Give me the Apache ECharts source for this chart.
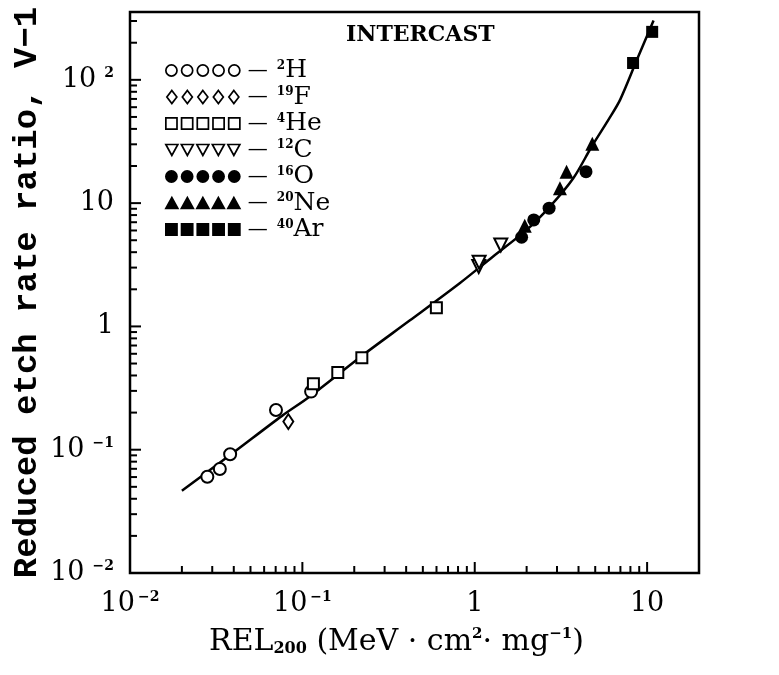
<!DOCTYPE html>
<html>
<head>
<meta charset="utf-8">
<script src="https://cdn.jsdelivr.net/npm/echarts@6/dist/echarts.min.js"></script>
<style>
  html, body { margin: 0; padding: 0; background: #fff; }
  #chart { width: 779px; height: 675px; }
</style>
</head>
<body>
<div id="chart"></div>
<script>
// isotopes (mass number, element)
const isoMass = ['2', '19', '4', '12', '16', '20', '40'];
const isoElem = ['H', 'F', 'He', 'C', 'O', 'Ne', 'Ar'];

// measured points: REL200 (MeV cm2/mg) and reduced etch rate ratio V-1
const h2X = [0.0281, 0.0332, 0.0381, 0.0703, 0.1124];
const h2Y = [0.0604, 0.0698, 0.0918, 0.210, 0.296];
const f19X = [0.0829];
const f19Y = [0.169];
const he4X = [0.1159, 0.1605, 0.2213, 0.599];
const he4Y = [0.342, 0.422, 0.558, 1.42];
const c12X = [1.055, 1.06, 1.416];
const c12Y = [3.06, 3.32, 4.58];
const o16X = [1.87, 2.20, 2.70, 4.42];
const o16Y = [5.29, 7.31, 9.10, 18.0];
const ne20X = [1.95, 3.12, 3.41, 4.81];
const ne20Y = [6.54, 13.2, 18.0, 30.3];
const ar40X = [8.29, 10.7];
const ar40Y = [137, 245];

// fitted curve
const fitX = [0.0200, 0.0381, 0.0765, 0.110, 0.221, 0.419, 0.818, 1.273, 2.0, 2.73, 3.73, 4.77, 5.96, 6.97, 8.75, 10.9];
const fitY = [0.0465, 0.0905, 0.189, 0.269, 0.576, 1.115, 2.24, 3.68, 6.07, 9.37, 15.9, 28.8, 47.4, 68.8, 146.7, 303];

// axes
const xMin = 0.01, xMax = 20;
const yMin = 0.01, yMax = 355;
const xMajor = [0.01, 0.1, 1, 10];
const xTickBase = ['10', '10', '1', '10'];
const xTickExp = ['−2', '−1', '', ''];
const xMinor = [0.02, 0.03, 0.04, 0.05, 0.06, 0.07, 0.08, 0.09,
                0.2, 0.3, 0.4, 0.5, 0.6, 0.7, 0.8, 0.9,
                2, 3, 4, 5, 6, 7, 8, 9];
const yMajor = [0.01, 0.1, 1, 10, 100];
const yTickBase = ['10', '10', '1', '10', '10'];
const yTickExp = ['−2', '−1', '', '', '2'];
const yMinor = [0.02, 0.03, 0.04, 0.05, 0.06, 0.07, 0.08, 0.09,
                0.2, 0.3, 0.4, 0.5, 0.6, 0.7, 0.8, 0.9,
                2, 3, 4, 5, 6, 7, 8, 9,
                20, 30, 40, 50, 60, 70, 80, 90,
                200, 300];

const SERIF = 'DejaVu Serif';

function pairs(xs, ys) {
  return xs.map((x, i) => [x, ys[i]]);
}

function majorIndex(list, v) {
  return list.findIndex(m => Math.abs(Math.log10(v) - Math.log10(m)) < 1e-6);
}

// row of five symbols for the legend icon
function rowIcon(kind) {
  let d = '';
  for (let k = 0; k < 5; k++) {
    const c = 6 + k * 15.5;
    if (kind === 'circle') {
      d += 'M' + (c - 5.5) + ',6.5a5.5,5.5 0 1,0 11,0a5.5,5.5 0 1,0 -11,0Z';
    } else if (kind === 'diamond') {
      d += 'M' + c + ',0L' + (c + 5) + ',6.5L' + c + ',13L' + (c - 5) + ',6.5Z';
    } else if (kind === 'rect') {
      d += 'M' + (c - 5.5) + ',1h11v11h-11Z';
    } else if (kind === 'down') {
      d += 'M' + (c - 6) + ',1h12l-6,11Z';
    } else {
      d += 'M' + (c - 6) + ',12h12l-6,-11Z';
    }
  }
  return 'path://' + d;
}

const hollow = { color: '#fff', borderColor: '#000', borderWidth: 2, opacity: 1 };
const filled = { color: '#000', borderColor: '#000', borderWidth: 0, opacity: 1 };

const isoSeries = [
  { data: pairs(h2X, h2Y), symbol: 'circle', size: 12, style: hollow, icon: 'circle' },
  { data: pairs(f19X, f19Y), symbol: 'diamond', size: [10, 15], style: hollow, icon: 'diamond' },
  { data: pairs(he4X, he4Y), symbol: 'rect', size: 11, style: hollow, icon: 'rect' },
  { data: pairs(c12X, c12Y), symbol: 'triangle', size: 13, rotate: 180, style: hollow, icon: 'down' },
  { data: pairs(o16X, o16Y), symbol: 'circle', size: 13, style: filled, icon: 'circle' },
  { data: pairs(ne20X, ne20Y), symbol: 'triangle', size: 14, style: filled, icon: 'up' },
  { data: pairs(ar40X, ar40Y), symbol: 'rect', size: 12, style: filled, icon: 'rect' }
];
const names = isoMass.map((m, i) => m + isoElem[i]);

const chart = echarts.init(document.getElementById('chart'));

const series = isoSeries.map((s, i) => ({
  name: names[i],
  type: 'scatter',
  data: s.data,
  symbol: s.symbol,
  symbolSize: s.size,
  symbolRotate: s.rotate || 0,
  itemStyle: s.style,
  z: 4
}));

series.push({
  name: 'fit',
  type: 'line',
  data: pairs(fitX, fitY),
  smooth: 0.3,
  showSymbol: false,
  lineStyle: { color: '#000', width: 2.5 },
  z: 3
});

// inward tick marks. Only interior values go through the scale:
// the 10^-2 edge sits one decade below 10^-1 (log axis is linear per decade).
function tickSeries(name, axis, majors, minors) {
  const vals = majors.concat(minors);
  return {
    name: name,
    type: 'custom',
    silent: true,
    clip: false,
    z: 10,
    data: vals.map(v => axis === 'x' ? [v, 1] : [1, v]),
    renderItem: function (params, api) {
      const v = axis === 'x' ? api.value(0) : api.value(1);
      const len = majorIndex(majors, v) >= 0 ? 11 : 7;
      const p = api.coord([api.value(0), api.value(1)]);
      const a = api.coord([0.1, 0.1]);
      const b = api.coord([1, 1]);
      let shape;
      if (axis === 'x') {
        const yb = 2 * a[1] - b[1];
        const dir = yb > b[1] ? -1 : 1;
        shape = { x1: p[0], y1: yb, x2: p[0], y2: yb + dir * len };
      } else {
        const xl = 2 * a[0] - b[0];
        const dir = xl < b[0] ? 1 : -1;
        shape = { x1: xl, y1: p[1], x2: xl + dir * len, y2: p[1] };
      }
      return {
        type: 'line',
        shape: shape,
        style: { stroke: '#000', lineWidth: 2 }
      };
    }
  };
}
series.push(tickSeries('xticks', 'x', xMajor.slice(1), xMinor));
series.push(tickSeries('yticks', 'y', yMajor.slice(1), yMinor));

chart.setOption({
  backgroundColor: '#fff',
  animation: false,
  title: {
    text: 'INTERCAST',
    left: 341,
    top: 19,
    textStyle: { fontFamily: SERIF, fontSize: 22, fontWeight: 'bold', color: '#000' }
  },
  grid: {
    left: 130, right: 80, top: 12, bottom: 102,
    show: true, borderColor: '#000', borderWidth: 2.5
  },
  legend: {
    orient: 'vertical',
    left: 160,
    top: 53,
    itemWidth: 74,
    itemHeight: 13,
    itemGap: 1.5,
    selectedMode: false,
    data: names.map((n, i) => ({
      name: n,
      icon: rowIcon(isoSeries[i].icon),
      itemStyle: Object.assign({}, isoSeries[i].style, { borderWidth: 1.7 })
    })),
    formatter: function (name) {
      const i = names.indexOf(name);
      return '{dash|—}{sup|' + isoMass[i] + '}{el|' + isoElem[i] + '}';
    },
    textStyle: {
      fontFamily: SERIF,
      color: '#000',
      lineHeight: 22,
      rich: {
        dash: { fontFamily: SERIF, fontSize: 20, lineHeight: 20, padding: [0, 9, 0, 3], color: '#000' },
        sup: { fontFamily: SERIF, fontSize: 12, fontWeight: 'bold', verticalAlign: 'top', lineHeight: 12, color: '#000' },
        el: { fontFamily: SERIF, fontSize: 25, lineHeight: 22, color: '#000' }
      }
    }
  },
  xAxis: {
    type: 'log',
    logBase: 10,
    position: 'bottom',
    min: xMin,
    max: xMax,
    splitNumber: 3,
    axisLine: { show: false, onZero: false },
    axisTick: { show: false },
    splitLine: { show: false },
    axisLabel: {
      margin: 17,
      showMaxLabel: false,
      formatter: function (v) {
        const i = majorIndex(xMajor, v);
        if (i < 0) return '';
        return '{b|' + xTickBase[i] + '}' + (xTickExp[i] ? '{s|' + xTickExp[i] + '}' : '');
      },
      rich: {
        b: { fontFamily: SERIF, fontSize: 27, color: '#000' },
        s: { fontFamily: SERIF, fontSize: 14, fontWeight: 'bold', verticalAlign: 'top', color: '#000', padding: [0, 0, 0, 3] }
      }
    },
    name: '{t|REL}{sub|200}{t| (MeV · cm}{sup|2}{t|· mg}{sup|−1}{t|)}',
    nameLocation: 'middle',
    nameGap: 54,
    nameTextStyle: {
      padding: [0, 36, 0, 0],
      rich: {
        t: { fontFamily: SERIF, fontSize: 30, color: '#000' },
        sub: { fontFamily: SERIF, fontSize: 16, fontWeight: 'bold', verticalAlign: 'bottom', color: '#000' },
        sup: { fontFamily: SERIF, fontSize: 15, fontWeight: 'bold', verticalAlign: 'top', color: '#000' }
      }
    }
  },
  yAxis: {
    type: 'log',
    logBase: 10,
    position: 'left',
    min: yMin,
    max: yMax,
    splitNumber: 4,
    axisLine: { show: false, onZero: false },
    axisTick: { show: false },
    splitLine: { show: false },
    axisLabel: {
      margin: 16,
      showMaxLabel: false,
      formatter: function (v) {
        const i = majorIndex(yMajor, v);
        if (i < 0) return '';
        return '{b|' + yTickBase[i] + '}' + (yTickExp[i] ? '{s|' + yTickExp[i] + '}' : '');
      },
      rich: {
        b: { fontFamily: SERIF, fontSize: 27, color: '#000' },
        s: { fontFamily: SERIF, fontSize: 14, fontWeight: 'bold', verticalAlign: 'top', color: '#000', padding: [0, 0, 0, 8] }
      }
    },
    name: 'Reduced etch rate ratio, V−1',
    nameLocation: 'middle',
    nameRotate: 90,
    nameGap: 86,
    nameMoveOverlap: false,
    nameTextStyle: { fontFamily: 'Liberation Mono', fontSize: 34, fontWeight: 'bold', color: '#000' }
  },
  series: series
});
</script>
</body>
</html>
